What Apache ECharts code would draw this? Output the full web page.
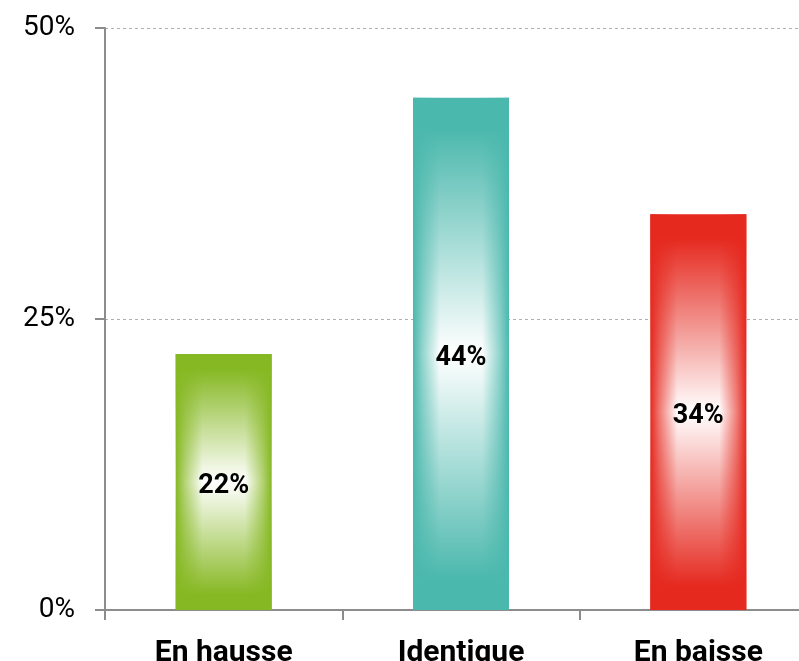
<!DOCTYPE html>
<html>
<head>
<meta charset="utf-8">
<script src="https://cdn.jsdelivr.net/npm/echarts@6/dist/echarts.min.js"></script>
<style>
  html, body { margin: 0; padding: 0; background: #fff; overflow: hidden; width: 799px; height: 661px; }
  #wrap { width: 799px; height: 661px; overflow: hidden; position: relative; }
  #main { width: 817px; height: 661px; position: absolute; left: 0; top: 0; }
</style>
</head>
<body>
<div id="wrap"><div id="main"></div></div>
<script>
const categories = ['En hausse', 'Identique', 'En baisse']
const values = [22, 44, 34]
const barColors = ['#86b823', '#4bb8ad', '#e5291f']
const yTicks = [0, 25, 50]

function hexA(hex, a) {
  const n = parseInt(hex.slice(1), 16)
  return 'rgba(' + (n >> 16) + ',' + ((n >> 8) & 255) + ',' + (n & 255) + ',' + a + ')'
}

const vertical = values.map((v, i) => ({
  value: v,
  itemStyle: {
    color: new echarts.graphic.LinearGradient(0, 0, 0, 1, [
      { offset: 0, color: barColors[i] },
      { offset: 0.06, color: barColors[i] },
      { offset: 0.5, color: '#ffffff' },
      { offset: 0.94, color: barColors[i] },
      { offset: 1, color: barColors[i] },
    ]),
  },
}))

const horizontal = values.map((v, i) => ({
  value: v,
  itemStyle: {
    color: new echarts.graphic.LinearGradient(0, 0, 1, 0, [
      { offset: 0, color: hexA(barColors[i], 1) },
      { offset: 0.1, color: hexA(barColors[i], 0.6) },
      { offset: 0.28, color: hexA(barColors[i], 0) },
      { offset: 0.72, color: hexA(barColors[i], 0) },
      { offset: 0.9, color: hexA(barColors[i], 0.6) },
      { offset: 1, color: hexA(barColors[i], 1) },
    ]),
  },
}))

const chart = echarts.init(document.getElementById('main'))
const option = {
  animation: false,
  textStyle: { fontFamily: 'Roboto' },
  grid: { left: 105, right: 0, top: 28, bottom: 51, containLabel: false, outerBoundsMode: 'none' },
  xAxis: {
    type: 'category',
    data: categories,
    axisLine: { lineStyle: { color: '#8c8c8c', width: 2 } },
    axisTick: { show: true, length: 10, lineStyle: { color: '#8c8c8c', width: 2 } },
    axisLabel: { color: '#000', fontSize: 30, fontWeight: 'bold', margin: 28 },
  },
  yAxis: {
    type: 'value',
    min: yTicks[0],
    max: yTicks[yTicks.length - 1],
    interval: 25,
    axisLine: { show: true, lineStyle: { color: '#8c8c8c', width: 2 } },
    axisTick: { show: true, length: 10, lineStyle: { color: '#8c8c8c', width: 2 } },
    axisLabel: { color: '#000', fontSize: 28, margin: 30, formatter: '{value}%' },
    splitLine: { lineStyle: { color: '#b0b0b0', type: [3, 3], width: 1 } },
  },
  series: [
    {
      type: 'bar',
      barWidth: 96,
      data: vertical,
    },
    {
      type: 'bar',
      barWidth: 96,
      barGap: '-100%',
      data: horizontal,
      label: {
        show: true,
        position: 'inside',
        offset: [0, 4],
        color: '#000',
        fontSize: 27,
        fontWeight: 'bold',
        formatter: '{c}%',
      },
    },
  ],
}
chart.setOption(option)
</script>
</body>
</html>
